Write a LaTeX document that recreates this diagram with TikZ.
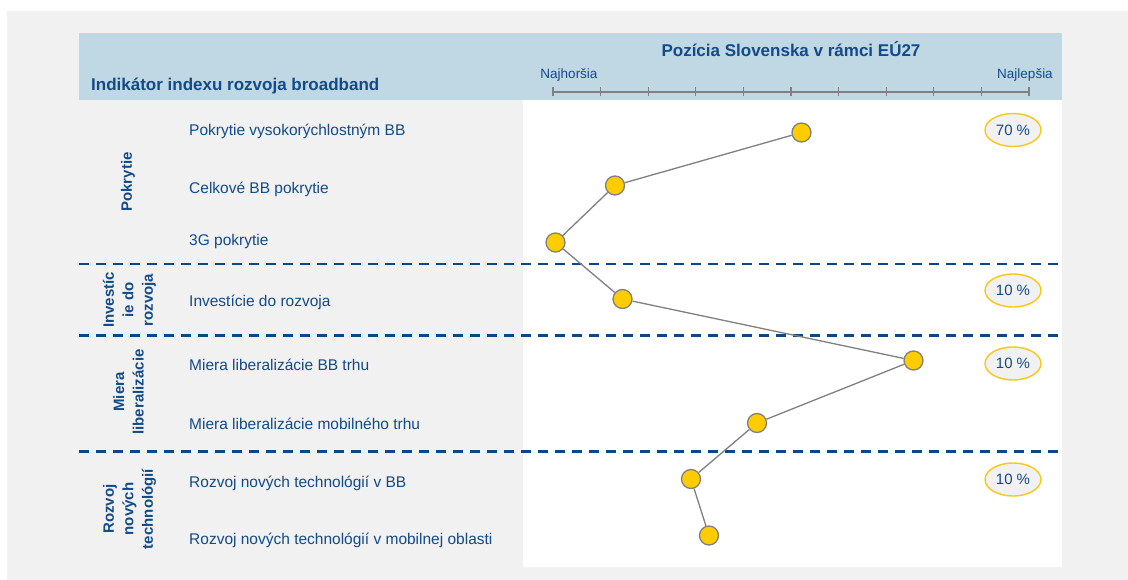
\documentclass[tikz,border=0pt]{standalone}
\usepackage{fontspec}
\setmainfont{Liberation Sans}
\usetikzlibrary{shapes.geometric,calc}
\definecolor{txt}{RGB}{18,74,138}
\definecolor{sepblue}{RGB}{10,72,135}
\definecolor{hdr}{RGB}{192,215,228}
\definecolor{bggray}{RGB}{241,241,241}
\definecolor{dotyellow}{RGB}{255,204,0}
\definecolor{ringyellow}{RGB}{250,200,20}
\definecolor{linegray}{RGB}{128,128,128}
\tikzset{
  hdrtext/.style={text=txt, font=\bfseries\fontsize{17}{20}\selectfont, inner sep=0},
  scaletext/.style={text=txt, font=\fontsize{13.5}{16}\selectfont, inner sep=0},
  item/.style={text=txt, font=\fontsize{15.5}{19}\selectfont, anchor=base west, inner sep=0},
  grp/.style={text=txt, font=\bfseries\fontsize{15}{19.5}\selectfont, rotate=90, align=center, inner sep=0},
  sepline/.style={draw=sepblue, line width=2.8pt, dash pattern=on 10pt off 7pt},
  dotnode/.style={circle, fill=dotyellow, draw=linegray, line width=1.3pt, minimum size=19pt, inner sep=0},
  conn/.style={draw=linegray, line width=1.3pt},
  pct/.style={ellipse, draw=ringyellow, fill=bggray, line width=1.4pt, minimum width=56pt, minimum height=33pt, inner sep=0, text=txt, font=\fontsize{15}{18}\selectfont},
  axisline/.style={draw=linegray, line width=1.3pt}
}
\begin{document}
\begin{tikzpicture}[x=1pt,y=-1pt]
\useasboundingbox (0,0) rectangle (1128,580);
\fill[white] (0,0) rectangle (1128,580);
\fill[bggray] (7,11) rectangle (1128,580);
\fill[hdr] (79,33) rectangle (1062,100);
\fill[white] (523,100) rectangle (1062,567);

% header texts
\node[hdrtext, anchor=base west] (hleft) at (91,90.5) {Indikátor indexu rozvoja broadband};
\node[hdrtext, anchor=base] (hright) at (791,57) {Pozícia Slovenska v rámci EÚ27};
\node[scaletext, anchor=base] (worst) at (569,79) {Najhoršia};
\node[scaletext, anchor=base] (best) at (1025,79) {Najlepšia};

% axis
\coordinate (ax0) at (553,92);
\coordinate (ax1) at (1029,92);
\draw[axisline] (ax0) -- (ax1);
\foreach \i in {0,...,10} {
  \draw[axisline] ($(ax0)!\i/10!(ax1)+(0,-4.5)$) -- ($(ax0)!\i/10!(ax1)+(0,4.5)$);
}

% separators
\coordinate (s1a) at (79,264); \coordinate (s1b) at (1062,264);
\coordinate (s2a) at (79,335.5); \coordinate (s2b) at (1062,335.5);
\coordinate (s3a) at (79,451.5); \coordinate (s3b) at (1062,451.5);
\draw[sepline] (s1a) -- (s1b);
\draw[sepline] (s2a) -- (s2b);
\draw[sepline] (s3a) -- (s3b);

% group labels
\node[grp] (g1) at (128,182) {Pokrytie};
\node[grp] (g2) at (129.5,300) {Investíc\\ie do\\rozvoja};
\node[grp] (g3) at (128.5,392) {Miera\\liberalizácie};
\node[grp] (g4) at (129.5,509) {Rozvoj\\nových\\technológií};

% item labels
\node[item] (i1) at (189,135.3) {Pokrytie vysokorýchlostným BB};
\node[item] (i2) at (189,193.3) {Celkové BB pokrytie};
\node[item] (i3) at (189,246) {3G pokrytie};
\node[item] (i4) at (189,306.5) {Investície do rozvoja};
\node[item] (i5) at (189,370.8) {Miera liberalizácie BB trhu};
\node[item] (i6) at (189,429) {Miera liberalizácie mobilného trhu};
\node[item] (i7) at (189,487.5) {Rozvoj nových technológií v BB};
\node[item] (i8) at (189,544) {Rozvoj nových technológií v mobilnej oblasti};

% points
\node[dotnode] (d1) at (801.5,132.5) {};
\node[dotnode] (d2) at (615,185.5) {};
\node[dotnode] (d3) at (555.5,242.5) {};
\node[dotnode] (d4) at (622.5,299) {};
\node[dotnode] (d5) at (913.5,360.5) {};
\node[dotnode] (d6) at (757,423) {};
\node[dotnode] (d7) at (691,479) {};
\node[dotnode] (d8) at (709,535.5) {};
\draw[conn] (d1) -- (d2);
\draw[conn] (d2) -- (d3);
\draw[conn] (d3) -- (d4);
\draw[conn] (d4) -- (d5);
\draw[conn] (d5) -- (d6);
\draw[conn] (d6) -- (d7);
\draw[conn] (d7) -- (d8);

% percentages
\node[pct] (p1) at (1013,130) {70 \%};
\node[pct] (p2) at (1013,290.5) {10 \%};
\node[pct] (p3) at (1013,363.5) {10 \%};
\node[pct] (p4) at (1013,479.5) {10 \%};
\end{tikzpicture}
\end{document}
